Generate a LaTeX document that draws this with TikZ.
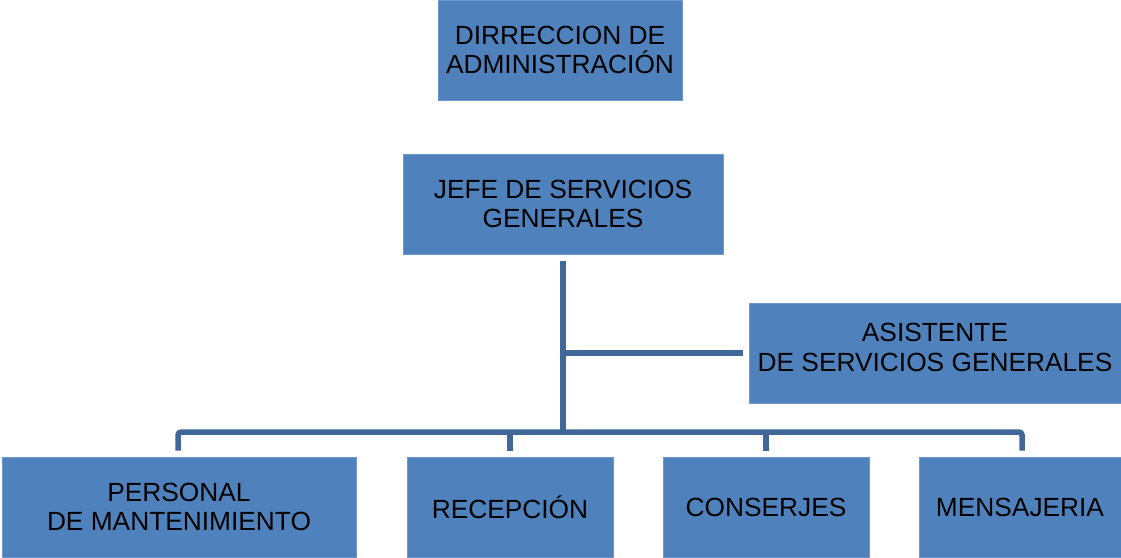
\documentclass[tikz,border=0pt]{standalone}
\usepackage{fontspec}
\setmainfont{Liberation Sans}
\usetikzlibrary{calc}
\definecolor{boxblue}{HTML}{4F81BD}
\definecolor{boxedge}{HTML}{6E98CC}
\definecolor{linkblue}{HTML}{3F6797}
\tikzset{
  orgbox/.style={rectangle, fill=boxblue, draw=boxedge, line width=0.6pt, inner sep=0pt,
    minimum height=100pt, align=center, text=black,
    font=\fontsize{26.3}{29.5}\selectfont},
  conn/.style={draw=linkblue, line width=5.5pt}
}
\begin{document}
\begin{tikzpicture}[x=1pt,y=-1pt]
\useasboundingbox (0,0) rectangle (1121,557);
\node[orgbox, minimum width=244pt] (dir) at (560,50) {DIRRECCION DE\\ADMINISTRACIÓN};
\node[orgbox, minimum width=320pt] (jefe) at (563,204) {JEFE DE SERVICIOS\\GENERALES};
\node[orgbox, minimum width=372pt] (asist) at (935,353) {ASISTENTE\\ DE SERVICIOS GENERALES\\[-18pt]\mbox{}};
\node[orgbox, minimum width=354pt] (pers) at (179,507) {PERSONAL\\ DE MANTENIMIENTO};
\node[orgbox, minimum width=206pt] (rec) at (510,507) {RECEPCIÓN};
\node[orgbox, minimum width=206pt] (cons) at (766,507) {CONSERJES};
\node[orgbox, minimum width=202pt] (mens) at (1020,507) {MENSAJERIA};
\coordinate (bus) at (563,432);
\draw[conn] ([yshift=-7pt]jefe.south) -- (bus);
\draw[conn] (bus |- asist.west) -- ([xshift=-6pt]asist.west);
\draw[conn, rounded corners=3pt] ([xshift=-1pt,yshift=6pt]pers.north) -- ([xshift=-1pt]pers.north |- bus)
  -- ([xshift=2pt]mens.north |- bus) -- ([xshift=2pt,yshift=6pt]mens.north);
\draw[conn] (rec.north |- bus) -- ([yshift=6pt]rec.north);
\draw[conn] (cons.north |- bus) -- ([yshift=6pt]cons.north);
\end{tikzpicture}
\end{document}
